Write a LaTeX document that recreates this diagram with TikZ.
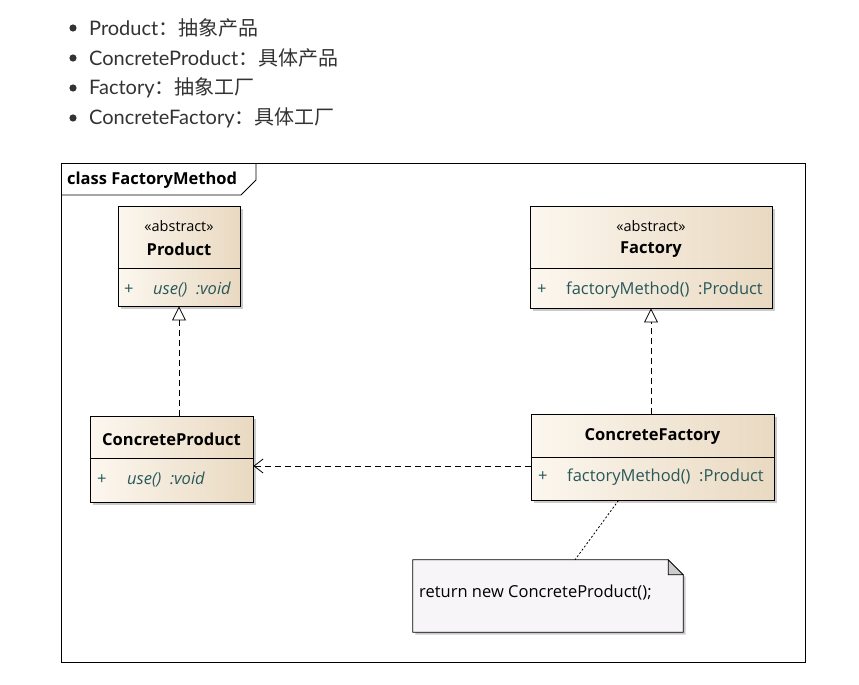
\documentclass[tikz,border=0pt]{standalone}
\usepackage{fontspec}
\setmainfont{Open Sans}
\newfontfamily\listfont{Lato}
\newfontfamily\cjkfont{Noto Sans CJK SC}
\usetikzlibrary{arrows.meta,shadows}

\definecolor{boxleft}{RGB}{252,247,239}
\definecolor{boxright}{RGB}{233,217,193}
\definecolor{opcolor}{RGB}{40,88,90}
\definecolor{notefill}{RGB}{248,245,248}
\definecolor{listtext}{RGB}{51,51,51}

\tikzset{
  classbox/.style={draw=black, line width=0.9pt, left color=boxleft, right color=boxright,
    drop shadow={shadow xshift=2.5pt, shadow yshift=-2.5pt, fill=black!40, opacity=0.5}},
  stereo/.style={font=\fontsize{14.5}{16}\selectfont},
  cname/.style={font=\fontsize{16.5}{18}\selectfont\bfseries},
  oper/.style={font=\fontsize{16.5}{18}\selectfont, text=opcolor, anchor=west, inner sep=0pt},
  item/.style={font=\fontsize{20}{24}\selectfont, text=listtext, anchor=west, inner sep=0pt},
  realize/.style={draw, line width=0.8pt, dash pattern=on 6pt off 4pt, -{Triangle[open,length=14pt,width=14pt]}},
  depend/.style={draw, line width=0.8pt, dash pattern=on 6pt off 4pt, -{Straight Barb[length=9pt,width=14pt]}},
}

\begin{document}
\begin{tikzpicture}[x=1pt, y=-1pt]
\useasboundingbox[fill=white] (0,0) rectangle (859,685);

\foreach \yy in {28,58,88,118}
  \fill[listtext] (73,\yy) circle (3.6);
\node[item] (l1) at (89,28) {{\listfont Product}{\cjkfont ：抽象产品}};
\node[item] (l2) at (89,58) {{\listfont ConcreteProduct}{\cjkfont ：具体产品}};
\node[item] (l3) at (89,88) {{\listfont Factory}{\cjkfont ：抽象工厂}};
\node[item] (l4) at (89,118) {{\listfont ConcreteFactory}{\cjkfont ：具体工厂}};

\node[draw, line width=0.9pt, minimum width=744, minimum height=499, inner sep=0pt] (frame) at (433,412.5) {};
\draw[line width=0.8pt] (256,163) -- (256,180) -- (241,195) -- (61,195);
\node[cname, anchor=west, inner sep=0pt] (title) at (67,180) {class FactoryMethod};

\node[classbox, minimum width=122, minimum height=100, inner sep=0pt] (product) at (179,256) {};
\node[stereo] (prodst) at (179,226) {«abstract»};
\node[cname] (prodname) at (179,249) {Product};
\draw[line width=0.8pt] (product.west |- 0,268) -- (product.east |- 0,268);
\node[oper] (prodplus) at (124,290) {+};
\node[oper, font=\fontsize{16.5}{18}\selectfont\itshape] (produse) at (153,290) {use()\ \ :void};

\node[classbox, minimum width=242, minimum height=102, inner sep=0pt] (factory) at (651,257) {};
\node[stereo] (factst) at (651,226) {«abstract»};
\node[cname] (factname) at (651,250) {Factory};
\draw[line width=0.8pt] (factory.west |- 0,268) -- (factory.east |- 0,268);
\node[oper] (factplus) at (537,290) {+};
\node[oper] (factop) at (566,290) {factoryMethod()\ \ :Product};

\node[classbox, minimum width=163, minimum height=86, inner sep=0pt] (cproduct) at (171.5,459) {};
\node[cname] (cprodname) at (171.5,439) {ConcreteProduct};
\draw[line width=0.8pt] (cproduct.west |- 0,458) -- (cproduct.east |- 0,458);
\node[oper] (cprodplus) at (97,480) {+};
\node[oper, font=\fontsize{16.5}{18}\selectfont\itshape] (cproduse) at (127,480) {use()\ \ :void};

\node[classbox, minimum width=243, minimum height=86, inner sep=0pt] (cfactory) at (652.5,457) {};
\node[cname] (cfactname) at (652.5,437) {ConcreteFactory};
\draw[line width=0.8pt] (cfactory.west |- 0,457) -- (cfactory.east |- 0,457);
\node[oper] (cfactplus) at (538,477) {+};
\node[oper] (cfactop) at (567,477) {factoryMethod()\ \ :Product};

\node[minimum width=270, minimum height=72, inner sep=0pt] (note) at (548,596) {};
\fill[black!40, opacity=0.5] ([xshift=2.5pt, yshift=-2.5pt]note.north west) -- ([xshift=-15pt+2.5pt, yshift=-2.5pt]note.north east)
  -- ([xshift=2.5pt, yshift=-15pt-2.5pt]note.north east) -- ([xshift=2.5pt, yshift=-2.5pt]note.south east)
  -- ([xshift=2.5pt, yshift=-2.5pt]note.south west) -- cycle;
\draw[line width=0.8pt, fill=notefill] (note.north west) -- ([xshift=-15pt]note.north east) -- ([yshift=-15pt]note.north east)
  -- (note.south east) -- (note.south west) -- cycle;
\draw[line width=0.8pt, fill=black!20] ([xshift=-15pt]note.north east) -- ([xshift=-15pt, yshift=-15pt]note.north east)
  -- ([yshift=-15pt]note.north east) -- cycle;
\node[anchor=west, inner sep=0pt, font=\fontsize{16.5}{18}\selectfont] (notetext) at (419,593) {return new ConcreteProduct();};

\draw[realize] (product.south |- cproduct.north) -- (product.south);
\draw[realize] (factory.south |- cfactory.north) -- (factory.south);
\coordinate (dep) at ([yshift=-9pt]cfactory.west);
\draw[depend] (dep) -- (cproduct.east |- dep);
\draw[line width=0.8pt, dash pattern=on 2pt off 2pt] ([xshift=-34pt]cfactory.south) -- ([xshift=27pt]note.north);
\end{tikzpicture}
\end{document}
